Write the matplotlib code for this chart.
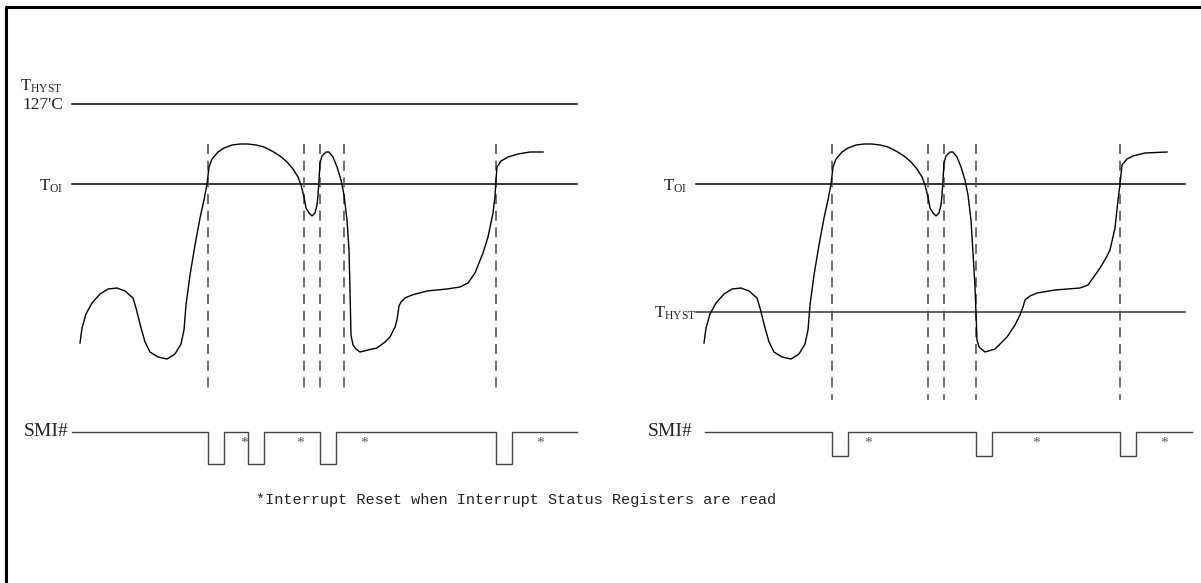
import matplotlib.pyplot as plt

plt.rcParams["mathtext.fontset"] = "custom"
plt.rcParams["mathtext.rm"] = "Liberation Serif"

W, H = 1201, 583

# temperature trace, left panel (pixel coordinates)
left_x = [80, 82, 86, 92, 100, 108, 117, 125, 133, 136, 140, 145, 150, 158, 167, 175, 181, 184,
          186, 190, 195, 200, 204, 207, 209, 212, 218, 224, 232, 240, 248, 256, 264, 272, 280,
          287, 293, 298, 301, 304, 306, 309, 312, 315, 317, 318, 319, 320, 322, 326, 329, 333,
          337, 341, 344, 347, 349, 350, 351, 353, 356, 360, 368, 377, 385, 390, 395, 397, 399,
          401, 405, 412, 427, 447, 460, 468, 475, 483, 488, 493, 495, 496, 497, 501, 508, 518,
          530, 543]
left_y = [343, 328, 314, 303, 294, 289, 288, 291, 298, 308, 324, 342, 352, 357, 359, 354, 344, 330,
          305, 275, 245, 218, 200, 184, 167, 159, 152, 148, 145, 144, 144, 145, 147, 151, 156,
          162, 169, 177, 185, 197, 208, 213, 216, 213, 205, 195, 180, 163, 156, 152, 152, 157,
          167, 180, 195, 220, 250, 290, 335, 345, 349, 352, 350, 348, 342, 337, 327, 320, 306,
          302, 298, 295, 291, 289, 287, 283, 273, 253, 237, 213, 196, 180, 167, 161, 157, 154,
          152, 152]

# temperature trace, right panel
right_x = [704, 706, 710, 716, 724, 732, 741, 749, 757, 760, 764, 769, 774, 782, 791, 799, 805, 808,
           810, 814, 819, 824, 828, 831, 833, 836, 842, 848, 856, 864, 872, 880, 888, 896, 904,
           911, 917, 922, 925, 928, 930, 933, 936, 939, 941, 942, 943, 944, 946, 950, 953, 957,
           961, 965, 968, 971, 973, 975, 976, 977, 979, 985, 995, 1007, 1015, 1020, 1023, 1025,
           1030, 1037, 1055, 1080, 1088, 1093, 1100, 1106, 1110, 1115, 1118, 1120, 1122, 1127,
           1133, 1145, 1167]
right_y = [343, 328, 314, 303, 294, 289, 288, 291, 298, 308, 324, 342, 352, 357, 359, 354, 344, 330,
           305, 275, 245, 218, 200, 184, 167, 159, 152, 148, 145, 144, 144, 145, 147, 151, 156,
           162, 169, 177, 185, 197, 208, 213, 216, 213, 205, 195, 180, 163, 156, 152, 152, 157,
           167, 180, 195, 220, 253, 287, 313, 340, 347, 352, 349, 337, 325, 315, 307, 300, 296,
           293, 290, 288, 285, 278, 268, 258, 250, 228, 200, 184, 165, 159, 156, 153, 152]

# event times (dashed markers) and SMI# low pulses
left_events = [208, 304, 320, 344, 496]
right_events = [832, 928, 944, 976, 1120]
left_pulses = [(208, 224), (248, 264), (320, 336), (496, 512)]
right_pulses = [(832, 848), (976, 992), (1120, 1136)]
left_stars = [244, 300, 364, 540]
right_stars = [868, 1036, 1164]

footnote = "*Interrupt Reset when Interrupt Status Registers are read"


def smi_trace(x0, x1, pulses, high, low):
    xs, ys = [x0], [high]
    for a, b in pulses:
        xs += [a, a, b, b]
        ys += [high, low, low, high]
    xs.append(x1)
    ys.append(high)
    return xs, ys


fig = plt.figure(figsize=(W / 100, H / 100), dpi=100)
ax = fig.add_axes([0, 0, 1, 1])
ax.set_xlim(0, W)
ax.set_ylim(H, 0)
ax.axis("off")

# frame (right and bottom edges fall outside the picture)
ax.plot([6, 6, W + 10], [H + 10, 7, 7], color="black", lw=2.2)

serif = "Liberation Serif"
lab = dict(family=serif, fontsize=14, color="#222222", va="center")
sub = dict(family=serif, fontsize=12, color="#222222", va="center")

# left panel
ax.plot([72, 577], [104, 104], color="black", lw=1.1)
ax.plot([72, 577], [184, 184], color="black", lw=1.1)
ax.text(63, 86, r"$\mathrm{T_{HYST}}$", ha="right", **sub)
ax.text(63, 105, "127'C", ha="right", family=serif, fontsize=12.5, color="#222222", va="center")
ax.text(63, 186, r"$\mathrm{T_{OI}}$", ha="right", **sub)
for x in left_events:
    ax.plot([x, x], [144, 392], color="#555555", lw=1.2, dashes=(6, 4))
ax.plot(left_x, left_y, color="black", lw=1.0)
sx, sy = smi_trace(72, 577, left_pulses, 432, 464)
ax.plot(sx, sy, color="#444444", lw=1.0)
ax.text(24, 432, "SMI#", ha="left", **lab)
for x in left_stars:
    ax.text(x, 443, "*", ha="center", va="center", family=serif, fontsize=11, color="#555555")

# right panel
ax.plot([696, 1185], [184, 184], color="black", lw=1.1)
ax.plot([696, 1185], [312, 312], color="#333333", lw=1.1)
ax.text(687, 186, r"$\mathrm{T_{OI}}$", ha="right", **sub)
ax.text(697, 313, r"$\mathrm{T_{HYST}}$", ha="right", **sub)
for x in right_events:
    ax.plot([x, x], [144, 400], color="#555555", lw=1.2, dashes=(6, 4))
ax.plot(right_x, right_y, color="black", lw=1.0)
sx, sy = smi_trace(705, 1192, right_pulses, 432, 456)
ax.plot(sx, sy, color="#444444", lw=1.0)
ax.text(648, 432, "SMI#", ha="left", **lab)
for x in right_stars:
    ax.text(x, 443, "*", ha="center", va="center", family=serif, fontsize=11, color="#555555")

ax.text(256, 500, footnote, ha="left", va="center", family="Liberation Mono",
        fontsize=11, color="#222222")

fig.savefig("out.png", dpi=100)
